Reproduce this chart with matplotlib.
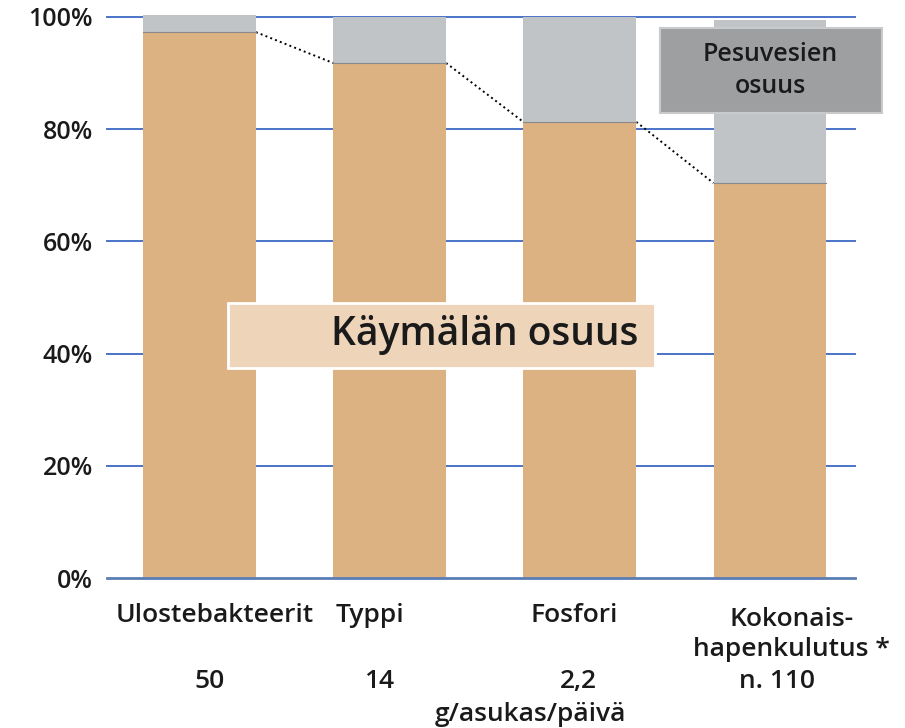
import matplotlib.pyplot as plt
from matplotlib.patches import Rectangle

# data
kategoriat = ['Ulostebakteerit', 'Typpi', 'Fosfori', 'Kokonais-\nhapenkulutus *']
maarat = ['50', '14', '2,2', 'n. 110']
kaymala = [97.3, 91.8, 81.3, 70.4]
pesuvesi = [3.1, 8.2, 18.7, 29.1]
yksikko = 'g/asukas/päivä'
ytikit = [0, 20, 40, 60, 80, 100]

oranssi = '#DDB282'
harmaa = '#C0C4C7'
sininen = '#4A74C9'

plt.rcParams['font.family'] = ['Open Sans', 'DejaVu Sans']

fig = plt.figure(figsize=(9.05, 7.28), dpi=100)
ax = fig.add_axes([107/905, 1-578/728, 748/905, 561/728])

x = range(len(kategoriat))
w = 0.594
ax.bar(x, kaymala, width=w, color=oranssi, zorder=2, clip_on=False)
ax.bar(x, pesuvesi, width=w, bottom=kaymala, color=harmaa, zorder=2, clip_on=False)

# dotted line from top of one bar to the next
for i in range(len(kaymala) - 1):
    ax.plot([i + w/2, i + 1 - w/2], [kaymala[i], kaymala[i+1]], ls=':', color='black',
            lw=1.4, zorder=3)
for i in x:
    ax.plot([i - w/2, i + w/2], [kaymala[i], kaymala[i]], color='#8a8a8a', lw=0.8, zorder=3)

ax.set_xlim(-0.486, 3.447)
ax.set_ylim(0, 100)
for t in ytikit[1:]:
    ax.axhline(t, color=sininen, lw=1.4, zorder=1, clip_on=False)
ax.axhline(0, color='#5b7db5', lw=2, zorder=3, clip_on=False)

ax.set_yticks(ytikit)
ax.set_yticklabels([f'{t}%' for t in ytikit], fontsize=18, fontweight='semibold',
                   color='#1a1a1a')
ax.tick_params(axis='y', length=0, pad=10)
ax.set_xticks([])
for s in ax.spines.values():
    s.set_visible(False)

# category labels and amounts (baseline of the last line)
lab_x = [0.082, 0.897, 1.969, 3.115]
lab_y = [-7.84, -7.84, -7.84, -13.9]
num_x = [0.055, 0.944, 1.99, 3.037]
for i in x:
    ax.text(lab_x[i], lab_y[i], kategoriat[i], ha='center', va='baseline', fontsize=19,
            fontweight='semibold', linespacing=1.25, color='#1a1a1a')
    ax.text(num_x[i], -19.6, maarat[i], ha='center', va='baseline', fontsize=19,
            fontweight='semibold', color='#1a1a1a')
ax.text(1.738, -25.5, yksikko, ha='center', va='baseline', fontsize=19,
        fontweight='semibold', color='#1a1a1a')

# labels in boxes
ax.add_patch(Rectangle((0.15, 37.4), 2.245, 11.6, fc='#EED5BA', ec='white', lw=2,
                       zorder=5, clip_on=False))
ax.text(1.50, 43.3, 'Käymälän osuus', ha='center', va='center', fontsize=28,
        fontweight='semibold', color='#1a1a1a', zorder=6)
ax.add_patch(Rectangle((2.421, 82.9), 1.168, 15.1, fc='#9E9FA1', ec='#C9CACB', lw=1.5,
                       zorder=5, clip_on=False))
ax.text(3.0, 90.5, 'Pesuvesien\nosuus', ha='center', va='center', fontsize=18,
        fontweight='semibold', color='#1a1a1a', zorder=6, linespacing=1.35)

fig.savefig('out.png', dpi=100)
